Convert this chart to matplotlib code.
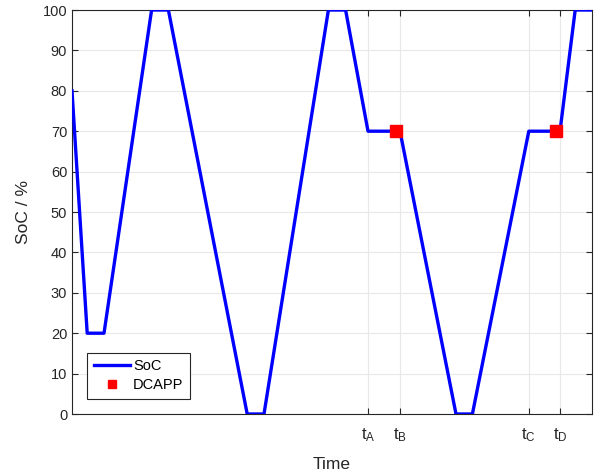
import matplotlib
matplotlib.use("Agg")
import matplotlib.pyplot as plt

plt.rcParams['font.family'] = ['Liberation Sans', 'DejaVu Sans']
plt.rcParams['mathtext.fontset'] = 'custom'
plt.rcParams['mathtext.rm'] = 'Liberation Sans'
plt.rcParams['mathtext.it'] = 'Liberation Sans'

time = [0, 3.8, 8, 19.9, 24.1, 43.8, 48, 64.1, 68.4, 74, 82, 96, 100.1, 114.2, 122, 125.8, 130]
soc = [80, 20, 20, 100, 100, 0, 0, 100, 100, 70, 70, 0, 0, 70, 70, 100, 100]
dcapp_t = [81, 120.9]
dcapp_soc = [70, 70]
xtick_pos = [74, 82, 114.2, 122]
xtick_labels = [r'$\mathregular{t_A}$', r'$\mathregular{t_B}$', r'$\mathregular{t_C}$', r'$\mathregular{t_D}$']
yticks = list(range(0, 101, 10))

fig = plt.figure(figsize=(6, 4.76), dpi=100)
ax = fig.add_axes([72/600, 62/476, 520/600, 404/476])

ax.plot(time, soc, color='#0000ff', lw=2.4, label='SoC', zorder=3)
ax.plot(dcapp_t, dcapp_soc, 's', color='#ff0000', ms=8.5, label='DCAPP', zorder=4)

ax.set_xlim(0, 130)
ax.set_ylim(0, 100)
ax.set_xticks(xtick_pos)
ax.set_xticklabels(xtick_labels, fontsize=12)
ax.set_yticks(yticks)
ax.tick_params(axis='y', labelsize=10.5, direction='in', right=True, length=4, color='#262626', labelcolor='#262626')
ax.tick_params(axis='x', direction='in', top=True, length=4, color='#262626', labelcolor='#262626', pad=9)
ax.grid(True, color='#e8e8e8', lw=0.8, zorder=0)
ax.set_axisbelow(True)
for s in ax.spines.values():
    s.set_color('#262626')
    s.set_linewidth(0.8)

ax.set_xlabel('Time', fontsize=12.5, color='#262626', labelpad=9)
ax.set_ylabel('SoC / %', fontsize=12.5, color='#262626', labelpad=8)

leg = ax.legend(loc='lower left', bbox_to_anchor=(15/520, 15/404), fontsize=10.5,
                fancybox=False, framealpha=1, edgecolor='#262626', handlelength=2.5,
                borderpad=0.45, labelspacing=0.35, handletextpad=0.2, markerscale=0.6,
                borderaxespad=0)
leg.get_frame().set_linewidth(0.8)

fig.savefig('out.png', dpi=100)
